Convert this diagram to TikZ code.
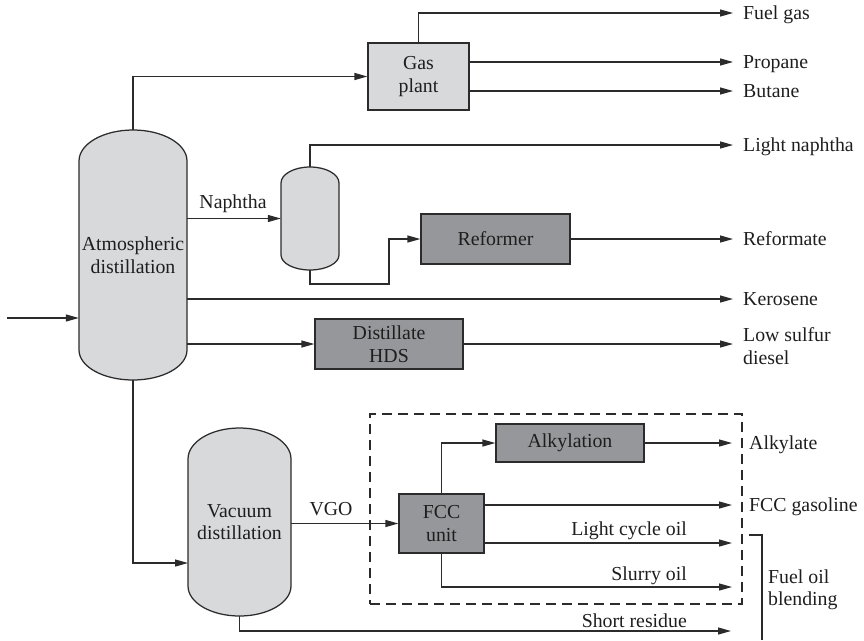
\documentclass[tikz,border=0pt]{standalone}
\usepackage{fontspec}
\setmainfont{Liberation Serif}
\usetikzlibrary{arrows.meta,calc}

\definecolor{linec}{HTML}{2B2B2B}
\definecolor{lightg}{HTML}{D8D9DB}
\definecolor{darkg}{HTML}{96979A}
\definecolor{textc}{HTML}{1E1E1E}

\tikzset{
  flow/.style={draw=linec, line width=1.25pt},
  arr/.style={flow, -{Triangle[length=13pt,width=7pt]}},
  lightbox/.style={draw=linec, line width=1.25pt, fill=lightg, inner sep=0pt, align=center, text=textc},
  darkbox/.style={draw=linec, line width=1.25pt, fill=darkg, inner sep=0pt, align=center, text=textc},
  vessel/.style={draw=linec, line width=1.25pt, fill=lightg},
  area/.style={inner sep=0pt, align=center, text=textc},
  lbl/.style={inner sep=0pt, text=textc},
  every node/.append style={font=\fontsize{19.8}{22.5}\selectfont},
}

\begin{document}
\begin{tikzpicture}[x=1pt, y=-1pt]
\useasboundingbox (0,0) rectangle (864,640);

% ---- vessel outlines (vertical drums with elliptic heads)
\draw[vessel] (79,161) arc[start angle=180, end angle=360, x radius=54, y radius=31]
  -- (187,350) arc[start angle=0, end angle=180, x radius=54, y radius=30] -- cycle;
\draw[vessel] (281,183) arc[start angle=180, end angle=360, x radius=29, y radius=16]
  -- (339,255) arc[start angle=0, end angle=180, x radius=29, y radius=15] -- cycle;
\draw[vessel] (188,459) arc[start angle=180, end angle=360, x radius=51.5, y radius=31]
  -- (291,586) arc[start angle=0, end angle=180, x radius=51.5, y radius=30] -- cycle;

% ---- units
\node[area, minimum width=108pt, minimum height=250pt] (atm) at (133,255) {Atmospheric\\distillation};
\node[area, minimum width=58pt, minimum height=103pt] (drum) at (310,218.5) {};
\node[area, minimum width=103pt, minimum height=188pt] (vac) at (239.5,522) {Vacuum\\distillation};
\node[lightbox, minimum width=101pt, minimum height=67pt] (gas) at (418.5,76.5) {Gas\\plant};
\node[darkbox, minimum width=149pt, minimum height=50pt] (ref) at (495.5,239) {Reformer};
\node[darkbox, minimum width=148pt, minimum height=50pt] (hds) at (389,344) {Distillate\\HDS};
\node[darkbox, minimum width=85pt, minimum height=59pt] (fcc) at (441.5,523.5) {FCC\\unit};
\node[darkbox, minimum width=148pt, minimum height=38pt] (alk) at (570,443) {Alkylation};

% ---- FCC complex boundary
\node[draw=linec, line width=1.25pt, dash pattern=on 10pt off 6pt, minimum width=372pt, minimum height=190pt, inner sep=0pt] (fccarea) at (556,509) {};

% ---- stream end points
\coordinate (feed) at (7,318);
\coordinate (fuelgasEnd) at (733,13);
\coordinate (propaneEnd) at (733,62);
\coordinate (butaneEnd) at (733,91);
\coordinate (lightnapEnd) at (733,145);
\coordinate (jog) at (389,284);
\coordinate (reformateEnd) at (733,239);
\coordinate (keroseneEnd) at (733,299);
\coordinate (dieselEnd) at (733,344);
\coordinate (vacIn) at (188,563);
\coordinate (alkylateEnd) at (732,443);
\coordinate (gasolineEnd) at (732,505);
\coordinate (lcoEnd) at (732,543);
\coordinate (slurryEnd) at (732,587);
\coordinate (residueEnd) at (731,631);
\coordinate (bracketTop) at (749,535);
\coordinate (bracketBot) at (762,640);

% ---- streams
\draw[arr] (feed) -- (feed -| atm.west);
\draw[arr] (atm.north) |- (gas.west);
\draw[arr] (gas.north) |- (fuelgasEnd);
\draw[arr] (gas.east |- propaneEnd) -- (propaneEnd);
\draw[arr] (gas.east |- butaneEnd) -- (butaneEnd);
\draw[arr] (atm.east |- drum.west) -- (drum.west);
\draw[arr] (drum.north) |- (lightnapEnd);
\draw[arr] (drum.south) |- (jog) |- (ref.west);
\draw[arr] (ref.east) -- (reformateEnd);
\draw[arr] (atm.east |- keroseneEnd) -- (keroseneEnd);
\draw[arr] (atm.east |- hds.west) -- (hds.west);
\draw[arr] (hds.east) -- (dieselEnd);
\draw[arr] (atm.south) |- (vacIn);
\draw[arr] (vac.east |- fcc.west) -- (fcc.west);
\draw[arr] (fcc.north) |- (alk.west);
\draw[arr] (alk.east) -- (alkylateEnd);
\draw[arr] (fcc.east |- gasolineEnd) -- (gasolineEnd);
\draw[arr] (fcc.east |- lcoEnd) -- (lcoEnd);
\draw[arr] (fcc.south) |- (slurryEnd);
\draw[arr] (vac.south) |- (residueEnd);
\draw[flow] (bracketTop) -| (bracketBot);

% ---- stream labels
\node[lbl, anchor=base] (naphtha) at (233,208) {Naphtha};
\node[lbl, anchor=base] (vgo) at (331,515) {VGO};
\node[lbl, anchor=base east] (lco) at (687,535) {Light cycle oil};
\node[lbl, anchor=base east] (slurry) at (687,580) {Slurry oil};
\node[lbl, anchor=base east] (residue) at (687,627) {Short residue};

\node[lbl, anchor=base west] (fuelgas) at (743,19) {Fuel gas};
\node[lbl, anchor=base west] (propane) at (743,68) {Propane};
\node[lbl, anchor=base west] (butane) at (743,97) {Butane};
\node[lbl, anchor=base west] (lightnap) at (743,151) {Light naphtha};
\node[lbl, anchor=base west] (reformate) at (743,245) {Reformate};
\node[lbl, anchor=base west] (kerosene) at (743,305) {Kerosene};
\node[lbl, anchor=west, align=left] (diesel) at (743,346) {Low sulfur\\diesel};
\node[lbl, anchor=base west] (alkylate) at (749,449) {Alkylate};
\node[lbl, anchor=base west] (gasoline) at (749,511) {FCC gasoline};
\node[lbl, anchor=west, align=left] (blending) at (768,590) {Fuel oil\\blending};
\end{tikzpicture}
\end{document}
